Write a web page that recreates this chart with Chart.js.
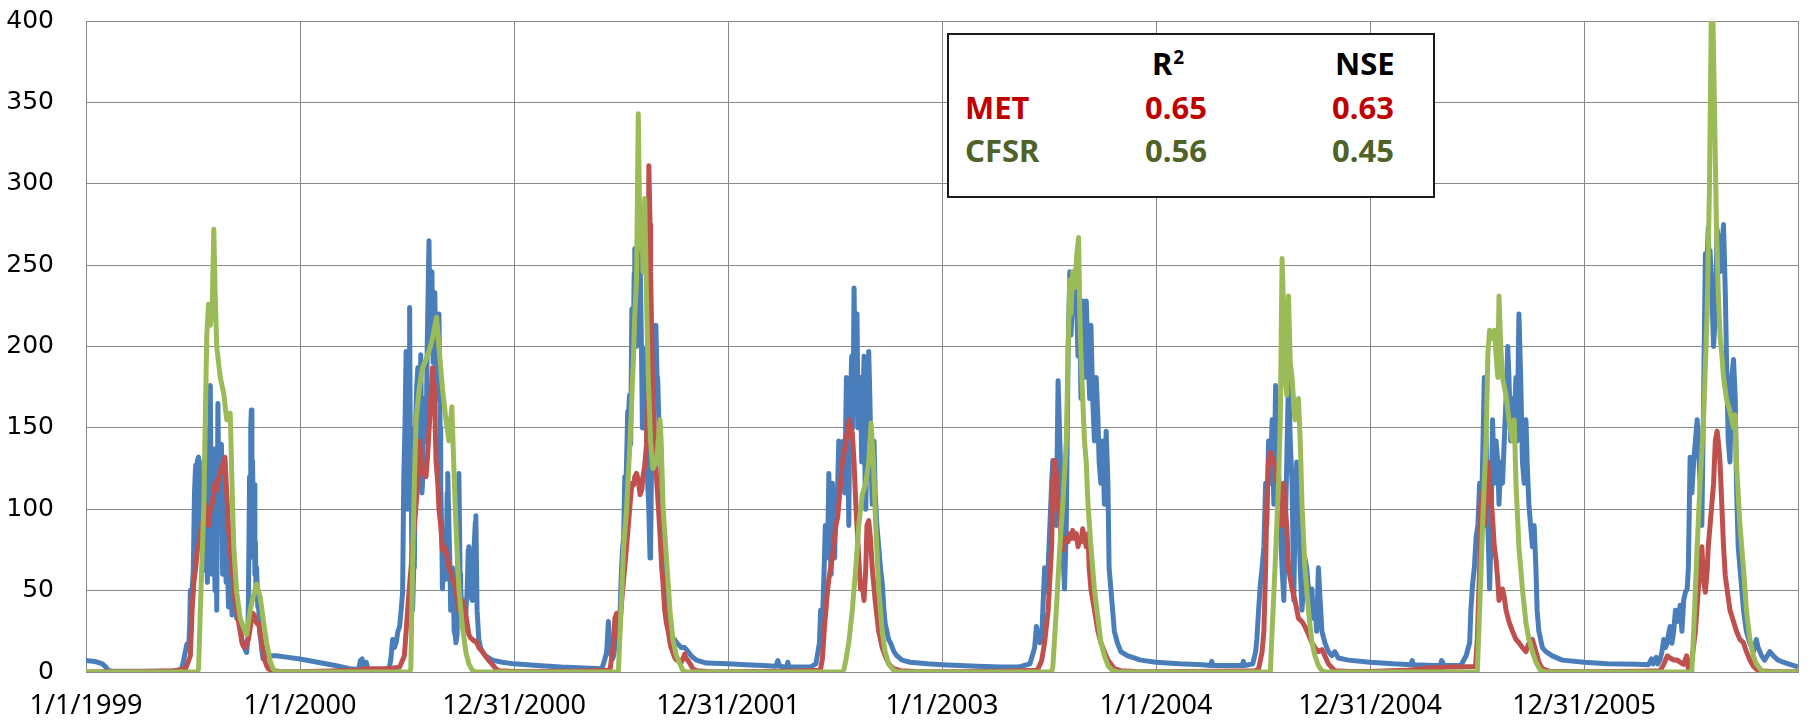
<!DOCTYPE html>
<html><head><meta charset="utf-8">
<script src="https://cdn.jsdelivr.net/npm/chart.js@4.4.1/dist/chart.umd.min.js"></script>
<style>
html,body{margin:0;padding:0;background:#fff;}
#wrap{position:relative;width:1816px;height:727px;overflow:hidden;}
#c{position:absolute;left:0;top:0;}
#stats{position:absolute;left:947px;top:33px;width:488px;height:165px;box-sizing:border-box;border:2px solid #1a1a1a;background:#fff;}
.t{position:absolute;font-family:"Noto Sans";font-weight:bold;font-size:31px;line-height:31px;white-space:nowrap;}
.t sup{font-size:19px;vertical-align:top;position:relative;top:-6px;margin-left:1px;}
</style></head>
<body><div id="wrap"><canvas id="c" width="1816" height="727"></canvas><div id="stats"></div></div>
<script>
// ---- axis labels ----
const xTickLabels = ['1/1/1999','1/1/2000','12/31/2000','12/31/2001','1/1/2003','1/1/2004','12/31/2004','12/31/2005'];
const yTicks = [0,50,100,150,200,250,300,350,400];

// ---- statistics table ----
const statNames = ['MET','CFSR'];
const statR2 = ['0.65','0.56'];
const statNSE = ['0.63','0.45'];

// ---- observed flow, [day of year, value] per year ----
const obs1999 = [[0,7],[15,6.5],[28,5],[34,3],[38,1],[45,0.5],[100,0.4],[150,0.6],[160,1],[164,3],[168,10],[172,17],[175,14],[177,30],[178,50],[180,45],[183,62],[185,110],[187,127],[188,72],[190,130],[192,132],[193,90],[195,83],[197,120],[199,62],[201,130],[203,75],[205,140],[207,55],[209,150],[211,100],[212,176],[214,70],[215,60],[217,120],[218,137],[220,50],[222,80],[223,38],[225,165],[227,90],[229,92],[231,140],[233,60],[235,125],[237,90],[239,55],[241,72],[243,40],[246,60],[249,35],[252,37],[255,46],[257,33],[260,36],[263,28],[266,20],[268,18],[271,14],[274,12],[276,20],[277,44],[279,120],[280,90],[281,150],[282,161],[283,110],[284,130],[285,105],[286,70],[287,115],[288,60],[289,80],[290,45],[291,64],[293,40],[294,45],[296,25],[298,20],[300,13],[302,8],[306,9],[311,10],[325,10],[345,9]];
const obs2000 = [[0,8],[30,6],[60,4],[85,2],[100,1.5],[103,7],[106,8],[108,2],[113,6],[116,1.5],[140,1.5],[152,2],[155,8],[158,20],[161,15],[164,18],[167,25],[170,28],[173,40],[175,49],[177,120],[179,150],[181,197],[183,110],[184,100],[186,150],[187,224],[188,150],[189,142],[191,60],[192,38],[194,64],[195,64],[197,150],[199,175],[201,187],[203,140],[204,142],[206,195],[208,110],[209,116],[211,168],[212,168],[214,150],[215,142],[217,200],[218,200],[220,265],[222,200],[223,220],[225,246],[227,190],[229,194],[230,233],[232,170],[234,168],[235,168],[237,220],[239,150],[240,116],[242,80],[243,51],[245,70],[246,77],[248,62],[249,57],[251,110],[252,122],[254,90],[256,60],[257,38],[259,60],[260,64],[262,40],[263,25],[265,22],[266,18],[268,23],[270,100],[271,122],[273,60],[274,51],[276,40],[277,38],[279,28],[280,25],[282,36],[283,38],[285,49],[287,75],[288,77],[290,60],[291,64],[293,45],[294,44],[296,70],[297,77],[299,92],[300,96],[302,38],[305,20],[308,15],[311,12.5],[316,10],[328,7.3],[345,6]];
const obs2001 = [[0,5],[40,4],[80,3],[120,2.5],[150,2],[155,8],[158,12],[161,31],[163,20],[164,12],[168,8],[170,10],[173,18],[175,20],[178,30],[181,38],[183,60],[185,75],[187,83],[189,120],[190,100],[192,130],[194,160],[195,155],[197,170],[199,140],[201,223],[202,200],[204,215],[205,245],[206,260],[208,236],[209,200],[211,250],[212,272],[214,260],[215,255],[217,210],[219,150],[220,168],[222,199],[224,170],[226,155],[228,116],[230,100],[232,70],[233,75],[235,142],[237,150],[238,207],[240,195],[242,213],[244,180],[245,181],[247,155],[249,140],[251,129],[253,103],[255,90],[257,64],[260,55],[263,38],[266,30],[268,25],[271,20],[274,20],[277,18],[280,17],[283,16],[285,15],[291,15],[297,12.5],[302,10],[311,7.3],[328,5.5]];
const obs2002 = [[0,5],[30,4.5],[60,4],[82,3.5],[85,7],[88,3.5],[100,3],[102,6],[104,3],[140,3],[150,5],[156,18],[158,38],[161,30],[164,64],[166,90],[168,70],[170,75],[172,122],[174,80],[176,60],[178,116],[180,90],[182,70],[184,112],[186,100],[189,142],[191,116],[193,120],[195,130],[197,142],[199,110],[202,181],[204,150],[206,90],[207,130],[209,168],[211,194],[213,150],[215,236],[217,180],[219,160],[220,220],[222,150],[224,168],[226,181],[228,129],[230,160],[232,194],[234,110],[235,100],[237,142],[239,175],[240,197],[242,168],[244,129],[246,103],[249,142],[251,110],[254,90],[257,77],[260,64],[263,55],[266,38],[268,30],[271,25],[274,20],[277,18],[283,12.5],[288,10],[297,7.3],[311,6],[340,5]];
const obs2003 = [[0,4.5],[30,4],[60,3.5],[100,3],[130,3],[150,5],[158,15],[161,28],[164,23],[167,18],[170,20],[172,38],[175,64],[178,49],[181,64],[184,90],[187,116],[189,130],[192,103],[195,90],[198,179],[201,142],[204,103],[206,77],[209,51],[212,90],[215,195],[218,246],[220,207],[223,233],[226,220],[229,236],[232,194],[235,220],[237,168],[240,228],[243,181],[246,228],[249,194],[252,168],[254,213],[257,168],[260,142],[263,181],[266,155],[268,129],[271,116],[274,142],[277,103],[280,148],[283,116],[285,64],[288,51],[291,38],[294,25],[299,18],[305,12.5],[316,10],[339,7.3]];
const obs2004 = [[0,6],[40,5],[80,4.5],[93,4],[95,6.5],[97,4],[140,4],[147,4],[149,6.5],[151,4],[165,5],[170,12.5],[172,20],[175,38],[178,54],[181,64],[184,77],[187,116],[189,90],[192,142],[195,116],[198,155],[201,103],[204,176],[206,142],[209,116],[212,90],[215,64],[218,44],[220,77],[223,129],[226,181],[229,142],[232,116],[235,44],[237,90],[240,129],[243,103],[246,64],[249,38],[251,51],[254,70],[257,64],[260,51],[263,44],[266,51],[268,33],[271,44],[274,25],[277,64],[280,44],[283,25],[288,18],[294,12.5],[300,10],[305,12.5],[311,8.6],[328,7.3]];
const obs2005 = [[0,6],[40,5],[70,4.5],[72,7],[74,4.5],[110,4],[120,4],[122,7],[124,6],[126,4],[155,4],[164,10],[170,18],[172,38],[175,54],[178,64],[181,83],[184,90],[187,116],[189,77],[192,129],[195,181],[198,142],[201,90],[204,51],[206,77],[209,155],[212,116],[215,142],[218,129],[220,103],[223,129],[226,116],[229,142],[232,168],[235,200],[237,181],[240,142],[243,168],[246,155],[249,181],[251,142],[254,220],[257,181],[260,129],[263,116],[266,155],[268,129],[271,103],[274,90],[277,77],[280,90],[283,64],[285,38],[288,25],[294,15],[300,12.5],[311,9.9],[328,7.3]];
const obs2006 = [[0,6],[40,5],[90,4.7],[110,4.5],[115,8],[118,5],[123,9],[126,5],[130,8],[133,12.5],[136,20],[139,15],[142,17.7],[145,25],[147,28],[150,17.7],[153,25],[156,38],[159,31],[161,33],[164,41],[167,25],[170,44],[173,49],[176,51],[178,64],[181,132],[183,116],[184,110],[187,129],[190,142],[193,155],[195,142],[198,116],[201,90],[204,168],[207,257],[209,246],[212,273],[214,240],[215,259],[218,233],[221,200],[224,220],[227,272],[229,267],[232,246],[235,259],[238,275],[241,233],[243,194],[246,142],[249,129],[252,181],[255,192],[258,168],[260,116],[263,77],[266,64],[269,51],[272,38],[277,25],[283,17.7],[289,12.5],[294,20],[297,15],[303,9.9],[308,7.3],[317,12.5],[323,9.9],[331,7.3],[340,6],[351,4.7],[362,3.4],[365,3]];

// ---- MET simulation ----
const met1999 = [[0,0],[100,0.3],[150,0.8],[170,2],[178,10],[181,38],[184,55],[187,64],[190,75],[192,77],[195,85],[198,90],[201,95],[204,103],[207,95],[209,90],[212,100],[215,103],[218,110],[220,116],[223,112],[226,119],[229,122],[232,127],[235,128],[237,132],[240,110],[243,90],[246,75],[249,64],[252,55],[254,44],[257,38],[260,31],[263,25],[266,18],[268,16],[271,15],[274,17],[277,20],[280,27],[283,33],[285,36],[288,34],[291,30],[294,30],[297,25],[300,18],[303,12],[305,7],[308,4],[311,2],[317,0.8],[330,0.3]];
const met2000 = [[0,0.2],[100,1],[110,2],[150,2],[170,3],[178,10],[181,25],[184,40],[187,54],[190,66],[192,77],[195,90],[198,103],[201,115],[204,142],[206,130],[209,122],[212,125],[215,120],[218,135],[220,148],[223,168],[226,187],[229,175],[232,130],[235,116],[237,100],[240,90],[243,75],[246,77],[249,74],[252,70],[254,64],[257,62],[260,57],[263,54],[266,51],[268,45],[271,38],[274,40],[277,44],[280,40],[283,35],[285,30],[288,23],[291,21],[294,20],[297,19],[300,19],[305,15],[311,12.5],[316,10],[322,7],[328,4.7],[334,2],[339,0.8]];
const met2001 = [[0,0.3],[100,0.5],[160,1],[164,2],[170,18],[172,33],[175,36],[178,22],[181,30],[184,45],[187,57],[189,65],[192,77],[195,90],[198,103],[201,116],[204,115],[206,120],[209,122],[212,118],[215,109],[218,112],[220,120],[223,127],[226,140],[228,168],[230,311],[232,275],[233,246],[236,181],[238,160],[240,142],[243,120],[246,103],[249,85],[252,64],[254,55],[257,38],[260,30],[263,25],[266,18],[268,15],[271,12],[274,9],[277,7.3],[283,7],[285,6],[288,8],[291,11],[294,8],[297,7],[302,4],[305,2],[311,0.8],[330,0.3]];
const met2002 = [[0,0.2],[100,0.5],[155,1],[158,2],[161,8],[164,25],[167,38],[170,51],[172,57],[175,64],[178,70],[181,80],[184,90],[187,95],[189,103],[192,116],[195,129],[198,135],[201,142],[204,148],[207,155],[209,150],[212,147],[215,129],[218,103],[220,90],[223,70],[226,51],[229,54],[232,44],[235,64],[237,90],[240,93],[243,82],[246,64],[251,44],[257,25],[263,15],[268,10],[274,5],[283,2],[294,0.8],[320,0.3]];
const met2003 = [[0,0.2],[100,0.5],[160,1],[164,2],[170,7],[175,18],[181,38],[187,77],[189,116],[192,130],[195,122],[198,103],[201,95],[204,77],[206,75],[209,82],[212,82],[215,80],[218,85],[220,82],[223,87],[226,82],[229,85],[232,77],[235,82],[237,80],[240,88],[243,82],[246,77],[249,85],[251,64],[254,51],[260,38],[266,25],[271,18],[277,12.5],[283,7.3],[294,2],[305,0.8],[330,0.3]];
const met2004 = [[0,0.2],[100,0.5],[170,0.8],[175,2],[181,12.5],[184,25],[187,64],[189,103],[192,130],[195,135],[198,132],[201,129],[204,126],[206,116],[209,122],[212,103],[215,90],[218,116],[220,103],[223,90],[226,64],[232,51],[237,44],[243,33],[249,31],[254,28],[260,23],[266,18],[271,15],[277,12.5],[283,13.8],[288,9.9],[294,5],[305,0.8],[330,0.3]];
const met2005 = [[0,0.3],[60,1],[100,2.5],[140,3],[180,3.4],[183,20],[187,64],[189,103],[192,111],[195,90],[198,103],[201,129],[204,116],[206,108],[209,95],[212,77],[215,69],[218,56],[220,44],[223,46],[226,51],[229,46],[232,38],[237,31],[243,25],[249,20],[254,18],[260,15],[266,12.5],[271,17.7],[277,20],[283,12.5],[288,6],[294,2],[305,0.5],[330,0.3]];
const met2006 = [[0,0.2],[100,0.5],[130,0.8],[136,4.7],[142,9.9],[147,8.6],[153,7.3],[159,7.3],[164,6],[170,4.7],[175,9.9],[178,2],[184,7.3],[190,25],[195,51],[198,70],[201,77],[204,56],[207,49],[210,62],[212,77],[215,90],[218,103],[221,116],[224,142],[227,148],[229,142],[232,129],[235,103],[238,77],[241,59],[244,51],[249,38],[255,31],[260,25],[266,20],[272,18],[277,12.5],[283,7.3],[289,3.4],[297,0.8],[320,0.3],[365,0.2]];

// ---- CFSR simulation ----
const cfsr1999 = [[0,0],[190,0],[192,2],[195,38],[201,103],[206,207],[209,226],[212,213],[215,220],[218,272],[220,236],[223,200],[229,181],[235,171],[240,155],[246,159],[249,116],[252,77],[257,49],[263,33],[268,28],[274,23],[280,38],[285,46],[291,54],[297,46],[302,33],[308,18],[314,7],[319,2],[325,0]];
const cfsr2000 = [[0,0],[187,0],[189,2],[192,64],[195,116],[198,155],[204,176],[209,187],[215,192],[220,197],[226,205],[233,218],[237,200],[243,174],[249,155],[254,142],[259,163],[262,130],[266,90],[271,51],[277,28],[283,12],[288,5],[294,1],[300,0]];
const cfsr2001 = [[0,0],[178,0],[181,25],[187,77],[192,100],[198,142],[204,195],[206,220],[209,241],[212,343],[215,260],[218,286],[220,246],[223,291],[226,230],[229,181],[233,142],[237,125],[243,129],[249,155],[251,142],[254,103],[260,70],[266,38],[271,20],[277,10],[283,5],[288,1],[295,0]];
const cfsr2002 = [[0,0],[196,0],[198,2],[201,7],[206,18],[212,38],[218,64],[223,90],[229,109],[235,116],[240,129],[244,153],[248,129],[252,90],[257,51],[263,25],[268,12.5],[274,5],[283,0.8],[290,0]];
const cfsr2003 = [[0,0],[187,0],[189,3],[195,38],[201,77],[206,103],[212,142],[215,195],[218,241],[220,220],[223,246],[226,236],[230,257],[233,267],[235,220],[237,195],[240,168],[243,142],[246,129],[249,103],[254,77],[260,51],[266,33],[271,18],[277,10],[283,4],[291,0.8],[300,0]];
const cfsr2004 = [[0,0],[195,0],[198,25],[203,64],[209,116],[212,155],[215,254],[218,220],[220,181],[223,170],[226,231],[229,190],[232,181],[237,155],[243,168],[246,142],[249,103],[254,64],[260,38],[266,18],[271,10],[277,4],[283,0.8],[290,0]];
const cfsr2005 = [[0,0],[183,0],[187,38],[192,90],[198,142],[201,195],[204,210],[206,208],[209,205],[212,210],[215,195],[218,181],[220,231],[223,200],[226,181],[232,170],[237,155],[243,142],[246,155],[249,116],[254,77],[260,51],[266,30],[271,20],[277,12.5],[283,6],[291,0.8],[300,0]];
const cfsr2006 = [[0,0],[184,0],[187,25],[193,77],[198,116],[204,155],[210,220],[214,298],[217,400],[220,400],[223,337],[226,272],[229,233],[232,207],[235,195],[238,181],[243,168],[249,160],[255,150],[258,158],[260,129],[266,90],[272,64],[277,38],[283,20],[289,10],[294,5],[303,0.8],[310,0],[365,0]];

const obsYears = [obs1999,obs2000,obs2001,obs2002,obs2003,obs2004,obs2005,obs2006];
const metYears = [met1999,met2000,met2001,met2002,met2003,met2004,met2005,met2006];
const cfsrYears = [cfsr1999,cfsr2000,cfsr2001,cfsr2002,cfsr2003,cfsr2004,cfsr2005,cfsr2006];
const DAYS = 365;

function toPoints(years){
  const pts = [];
  years.forEach((arr, yi) => arr.forEach(([d, v]) => pts.push({x: yi*DAYS + d, y: v})));
  return pts;
}

// ---- stats box (HTML text) ----
const wrap = document.getElementById('wrap');
function addText(txt, left, baseline, color, html){
  const d = document.createElement('div');
  d.className = 't';
  if (html) d.innerHTML = txt; else d.textContent = txt;
  d.style.left = left + 'px';
  d.style.top = (baseline - 27.5) + 'px';
  d.style.color = color;
  wrap.appendChild(d);
}
addText('R<sup>2</sup>', 1152, 75, '#000', true);
addText('NSE', 1335, 75, '#000');
const rowColors = ['#C00000', '#4F6228'];
const rowBase = [119, 162];
statNames.forEach((n, i) => {
  addText(n, 965, rowBase[i], rowColors[i]);
  addText(statR2[i], 1145, rowBase[i], rowColors[i]);
  addText(statNSE[i], 1332, rowBase[i], rowColors[i]);
});

const grid = '#888888';
const LW = 5;
new Chart(document.getElementById('c').getContext('2d'), {
  type: 'line',
  data: { datasets: [
    {label: 'Observed', data: toPoints(obsYears), borderColor: '#4A7EBB', borderWidth: LW, pointRadius: 0, tension: 0, order: 3, borderJoinStyle: 'round'},
    {label: 'MET', data: toPoints(metYears), borderColor: '#C0504D', borderWidth: LW, pointRadius: 0, tension: 0, order: 2, borderJoinStyle: 'round'},
    {label: 'CFSR', data: toPoints(cfsrYears), borderColor: '#9BBB59', borderWidth: LW, pointRadius: 0, tension: 0, order: 1, borderJoinStyle: 'round'}
  ]},
  options: {
    responsive: false, animation: false, devicePixelRatio: 1,
    layout: {padding: {top: 21, right: 8, left: 0, bottom: 0}},
    plugins: {legend: {display: false}, tooltip: {enabled: false}},
    scales: {
      x: {type: 'linear', min: 0, max: DAYS * 8,
        ticks: {stepSize: DAYS, autoSkip: false, maxRotation: 0, minRotation: 0, padding: 18, color: '#000',
          font: {family: 'Noto Sans', size: 27},
          callback: (v, i) => xTickLabels[i] !== undefined ? xTickLabels[i] : ''},
        grid: {color: grid, lineWidth: 1, drawTicks: false},
        border: {color: grid, width: 1},
        afterFit: s => { s.height = 55; }
      },
      y: {min: 0, max: 400,
        afterBuildTicks: s => { s.ticks = yTicks.map(v => ({value: v})); },
        ticks: {padding: 32, color: '#000', font: {family: 'DejaVu Sans', size: 25}},
        grid: {color: grid, lineWidth: 1, drawTicks: false},
        border: {color: grid, width: 1},
        afterFit: s => { s.width = 86; s.paddingTop = 0; s.paddingBottom = 0; }
      }
    }
  }
});
</script></body></html>
